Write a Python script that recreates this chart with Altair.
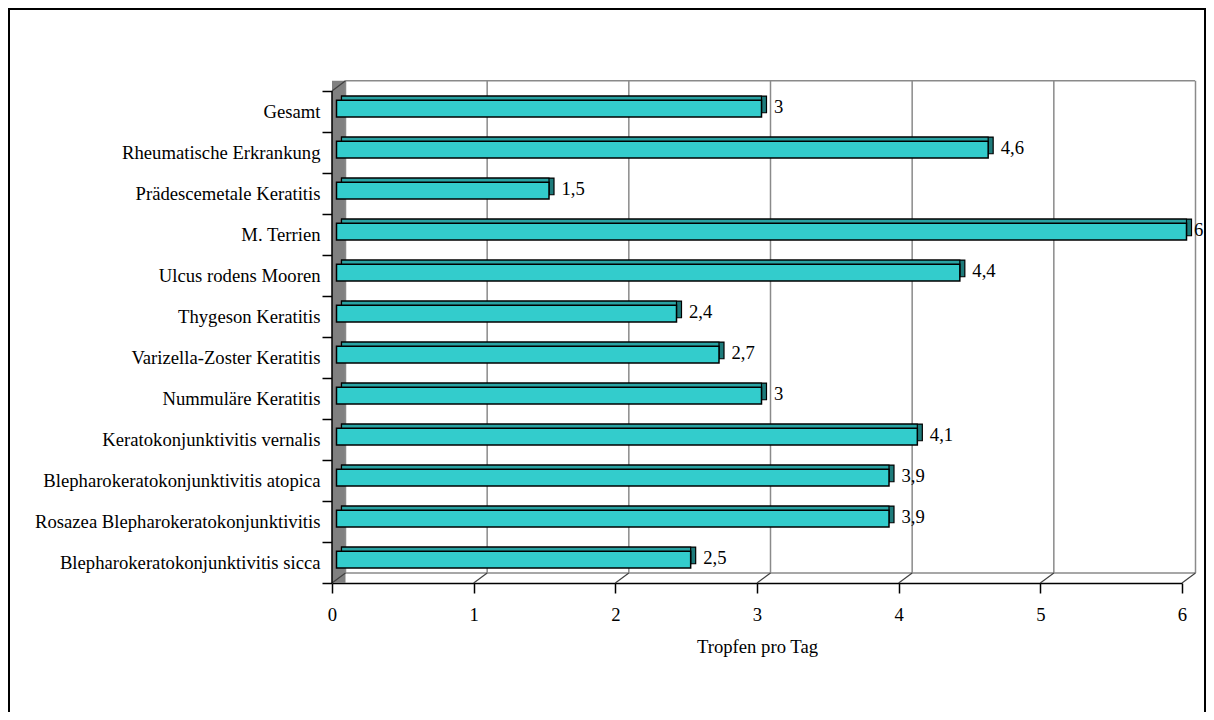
import altair as alt
import pandas as pd

categories = [
    "Gesamt",
    "Rheumatische Erkrankung",
    "Prädescemetale Keratitis",
    "M. Terrien",
    "Ulcus rodens Mooren",
    "Thygeson Keratitis",
    "Varizella-Zoster Keratitis",
    "Nummuläre Keratitis",
    "Keratokonjunktivitis vernalis",
    "Blepharokeratokonjunktivitis atopica",
    "Rosazea Blepharokeratokonjunktivitis",
    "Blepharokeratokonjunktivitis sicca",
]
values = [3, 4.6, 1.5, 6, 4.4, 2.4, 2.7, 3, 4.1, 3.9, 3.9, 2.5]
value_labels = ["3", "4,6", "1,5", "6", "4,4", "2,4", "2,7", "3", "4,1", "3,9", "3,9", "2,5"]
x_ticks = [0, 1, 2, 3, 4, 5, 6]
axis_title = "Tropfen pro Tag"

FONT = "Liberation Serif"
FS = 18.67

df = pd.DataFrame({"cat": categories, "val": values, "lab": value_labels, "zero": [0] * len(values)})
ticks_df = pd.DataFrame({"t": x_ticks})
one = pd.DataFrame({"k": [0]})

xscale = alt.Scale(domain=[0, 6], range=[0, 850], nice=False, zero=False)
yscale = alt.Scale(type="band", domain=categories, paddingInner=0, paddingOuter=0.134, align=1)

x_axis = alt.Axis(
    values=x_ticks, format="d", title=axis_title, grid=False,
    domainColor="black", domainWidth=1.5, tickColor="black", tickWidth=1.5, tickSize=10,
    labelPadding=12, labelFlush=False, labelFont=FONT, labelFontSize=FS, labelColor="black",
    titleFont=FONT, titleFontSize=FS, titleFontWeight="normal", titleColor="black", titlePadding=14,
)
y_axis = alt.Axis(
    title=None, domain=False, grid=False, tickBand="extent", tickColor="black", tickWidth=1.5,
    tickSize=10, labelPadding=2, labelLimit=500, labelFont=FONT, labelFontSize=FS, labelColor="black",
)

X = alt.X("val:Q", scale=xscale, axis=x_axis)
Y = alt.Y("cat:N", sort=categories, scale=yscale, axis=y_axis)

# frame around the whole chart
border = alt.Chart(one).mark_rect(filled=False, stroke="black", strokeWidth=2).encode(
    x=alt.value(-323), x2=alt.value(873), y=alt.value(-71), y2=alt.value(700)
)

# left (side) wall
wall = alt.Chart(one).mark_rect(color="#808080").encode(
    x=alt.value(0), x2=alt.value(13.5), y=alt.value(0.7), y2=alt.value(503)
)

grid = alt.Chart(ticks_df).mark_rule(color="#8a8a8a", strokeWidth=1.5, xOffset=13.5).encode(
    x=alt.X("t:Q", scale=xscale), y=alt.value(0.7), y2=alt.value(493)
)
floor_diag = alt.Chart(ticks_df).mark_rule(color="#404040", strokeWidth=1.2, x2Offset=13.5).encode(
    x=alt.X("t:Q", scale=xscale), x2="t:Q", y=alt.value(503), y2=alt.value(493)
)
top_edge = alt.Chart(one).mark_rule(color="#8a8a8a", strokeWidth=1.5).encode(
    x=alt.value(13.5), x2=alt.value(863), y=alt.value(0.7)
)
floor_back = alt.Chart(one).mark_rule(color="#8a8a8a", strokeWidth=1.5).encode(
    x=alt.value(13.5), x2=alt.value(863), y=alt.value(493)
)
wall_diag = alt.Chart(one).mark_rule(color="#404040", strokeWidth=1.2).encode(
    x=alt.value(0), x2=alt.value(13.5), y=alt.value(11), y2=alt.value(0.7)
)
y_line = alt.Chart(one).mark_rule(color="black", strokeWidth=1.5).encode(
    x=alt.value(0), y=alt.value(11), y2=alt.value(503)
)

bar_back = alt.Chart(df).mark_bar(
    size=16.7, xOffset=9.5, x2Offset=9.5, yOffset=-7.1, fill="#1E7B7B", stroke="black", strokeWidth=1.2
).encode(x=X, x2="zero:Q", y=Y)
bar_top = alt.Chart(df).mark_bar(
    size=16.7, xOffset=4.5, x2Offset=9.5, yOffset=-7.1, fill="#29A3A3", stroke="black", strokeWidth=1.2
).encode(x=X, x2="zero:Q", y=Y)
bar_front = alt.Chart(df).mark_bar(
    size=16.7, xOffset=4.5, x2Offset=4.5, yOffset=-2.8, fill="#33CCCC", stroke="black", strokeWidth=1.5
).encode(x=X, x2="zero:Q", y=Y)

labels = alt.Chart(df).transform_filter("datum.val < 6").mark_text(
    align="left", baseline="middle", dx=17, yOffset=-4.1, font=FONT, fontSize=FS, color="black"
).encode(x=X, y=Y, text="lab:N")
labels_edge = alt.Chart(df).transform_filter("datum.val >= 6").mark_text(
    align="left", baseline="middle", dx=12, yOffset=-4.1, font=FONT, fontSize=FS, color="black"
).encode(x=X, y=Y, text="lab:N")

chart = alt.layer(
    border, wall, grid, top_edge, floor_back, floor_diag, wall_diag,
    bar_back, bar_top, bar_front, labels, labels_edge, y_line
).properties(
    width=863, height=503, autosize="none",
    padding={"left": 324, "top": 72, "right": 11, "bottom": 129},
    background="white",
).configure_view(stroke=None)

chart.save("out.html", embed_options={"renderer": "svg", "actions": False})
